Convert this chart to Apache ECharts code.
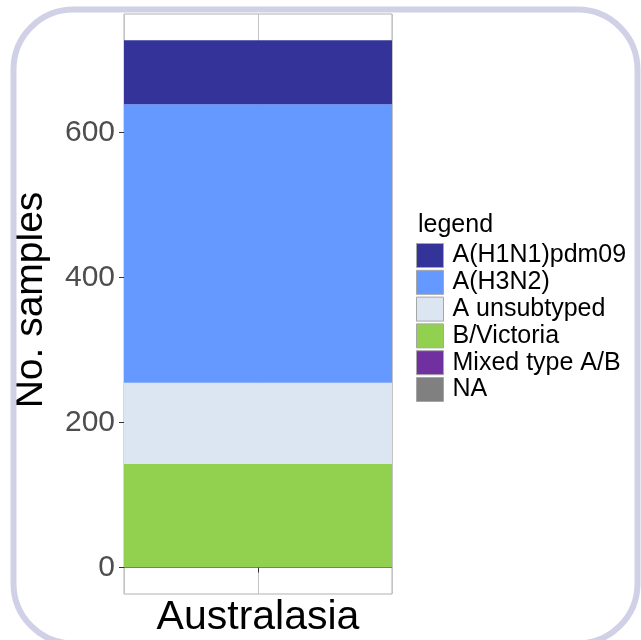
<!DOCTYPE html>
<html><head><meta charset="utf-8">
<script src="https://cdn.jsdelivr.net/npm/echarts@6/dist/echarts.min.js"></script>
<style>html,body{margin:0;padding:0;background:#fff}#c{width:641px;height:640px}</style>
</head><body><div id="c"></div>
<script>
// ---- data ----
const categories = ['Australasia'];
const legendOrder = ['A(H1N1)pdm09', 'A(H3N2)', 'A unsubtyped', 'B/Victoria', 'Mixed type A/B', 'NA'];
const h1n1 = [88];
const h3n2 = [384];
const aUnsubtyped = [112];
const bVictoria = [142];
const mixedAB = [1];
const naValues = [0];
const yTicks = [0, 200, 400, 600];

const colorMap = {
  'A(H1N1)pdm09': '#333399',
  'A(H3N2)': '#6699ff',
  'A unsubtyped': '#dce6f2',
  'B/Victoria': '#92d050',
  'Mixed type A/B': '#7030a0',
  'NA': '#808080'
};
// stacking order: bottom to top
const stackSeries = [
  ['NA', naValues],
  ['Mixed type A/B', mixedAB],
  ['B/Victoria', bVictoria],
  ['A unsubtyped', aUnsubtyped],
  ['A(H3N2)', h3n2],
  ['A(H1N1)pdm09', h1n1]
];
const total = categories.map((_, i) => stackSeries.reduce((s, d) => s + d[1][i], 0));
const maxTotal = Math.max(...total);
const pad = maxTotal * 0.05;

const FONT = '"Liberation Sans", Arial, sans-serif';
const chart = echarts.init(document.getElementById('c'), null, { renderer: 'canvas' });
chart.setOption({
  backgroundColor: '#ffffff',
  animation: false,
  grid: { left: 124, top: 14, width: 268, height: 580, show: true, borderColor: '#b0b0b0', borderWidth: 1, backgroundColor: '#ffffff', containLabel: false },
  xAxis: [
    {
      type: 'category', data: categories, boundaryGap: true,
      axisLine: { show: false },
      axisTick: { show: true, alignWithLabel: true, length: 5, lineStyle: { color: '#333333', width: 1 } },
      axisLabel: { show: false },
      splitLine: { show: false }
    },
    {
      type: 'value', min: 0, max: 2, interval: 1, position: 'bottom',
      axisLine: { show: false }, axisTick: { show: false }, axisLabel: { show: false },
      splitLine: { show: true, lineStyle: { color: '#c4c4c4', width: 1 } }
    }
  ],
  yAxis: {
    type: 'value', min: -pad, max: maxTotal + pad,
    axisLine: { show: false },
    axisTick: { show: true, customValues: yTicks, length: 5, lineStyle: { color: '#333333', width: 1 } },
    axisLabel: { show: true, customValues: yTicks, margin: 9, color: '#4d4d4d', fontSize: 30, fontFamily: FONT },
    splitLine: { show: false }
  },
  legend: {
    orient: 'vertical', left: 416, top: 243, padding: 0,
    data: legendOrder,
    icon: 'rect', itemWidth: 27, itemHeight: 24, itemGap: 1.8,
    itemStyle: { borderColor: '#a6a6a6', borderWidth: 1 },
    textStyle: { fontSize: 25, fontFamily: FONT, color: '#000000', lineHeight: 24, padding: [0, 0, 0, 4] },
    selectedMode: false
  },
  series: stackSeries.map(([name, vals]) => ({
    name, type: 'bar', stack: 'total', data: vals, barWidth: '100%',
    itemStyle: { color: colorMap[name] }, xAxisIndex: 0
  })),
  graphic: [
    { type: 'rect', shape: { x: 13.5, y: 9.5, width: 624, height: 634, r: 60 }, style: { fill: 'none', stroke: '#d0d1e6', lineWidth: 6 }, silent: true, z: 100 },
    { type: 'text', x: 418, y: 225, style: { text: 'legend', font: '25px ' + FONT, fill: '#000', textAlign: 'left', textVerticalAlign: 'middle' } },
    { type: 'text', x: 258, y: 618, style: { text: 'Australasia', font: '41px ' + FONT, fill: '#000', textAlign: 'center', textVerticalAlign: 'middle' } },
    { type: 'text', x: 31, y: 300, rotation: Math.PI / 2, style: { text: 'No. samples', font: '39px ' + FONT, fill: '#000', textAlign: 'center', textVerticalAlign: 'middle' } }
  ]
});
</script></body></html>
